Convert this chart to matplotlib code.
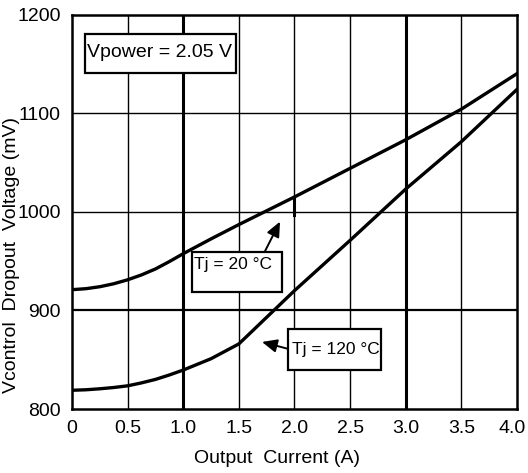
import matplotlib
matplotlib.use("Agg")
import matplotlib.pyplot as plt
from matplotlib.patches import Rectangle
from matplotlib.transforms import ScaledTranslation

plt.rcParams['font.family'] = ['Liberation Sans', 'DejaVu Sans']

current = [0.0, 0.125, 0.25, 0.375, 0.5, 0.625, 0.75, 0.875, 1.0, 1.25, 1.5, 1.75, 2.0, 2.5, 3.0, 3.5, 4.0]
v_tj20 = [921, 922, 924, 927, 931, 936, 942, 949.5, 957.5, 972.5, 987, 1001, 1015, 1044, 1073, 1104, 1140]
v_tj120 = [819, 819.5, 820.5, 821.8, 823.5, 826.5, 830, 834.5, 839.5, 851, 866, 893, 920, 971, 1023, 1071, 1124]

xticks = [0, 0.5, 1.0, 1.5, 2.0, 2.5, 3.0, 3.5, 4.0]
xticklabels = ["0", "0.5", "1.0", "1.5", "2.0", "2.5", "3.0", "3.5", "4.0"]
yticks = [800, 900, 1000, 1100, 1200]

fig = plt.figure(figsize=(5.28, 4.73), dpi=100)
ax = fig.add_axes([0.1364, 0.1353, 0.8426, 0.8340])
ax.set_xlim(0, 4.0)
ax.set_ylim(800, 1200)

# grid
for x in xticks[1:-1]:
    lw = 2.2 if x in (1.0, 3.0) else 1.0
    ax.axvline(x, color='black', lw=lw, zorder=1)
for y in yticks[1:-1]:
    lw = 1.6 if y == 900 else 1.0
    ax.axhline(y, color='black', lw=lw, zorder=1)

ax.plot(current, v_tj20, color='black', lw=2.4, zorder=3, solid_joinstyle='round')
ax.plot(current, v_tj120, color='black', lw=2.4, zorder=3, solid_joinstyle='round')
ax.plot([2.0, 2.0], [997, 1015], color='black', lw=2.2, zorder=3)

for s in ax.spines.values():
    s.set_linewidth(1.8)

ax.set_xticks(xticks)
ax.set_xticklabels(xticklabels)
ax.set_yticks(yticks)
ax.tick_params(length=0, pad=8, labelsize=14)
last = ax.get_xticklabels()[-1]
last.set_transform(last.get_transform() + ScaledTranslation(-5 / 100, 0, fig.dpi_scale_trans))

ax.set_xlabel("Output  Current (A)", fontsize=14)
ax.xaxis.set_label_coords(0.46, -0.105)
ax.set_ylabel("Vcontrol  Dropout  Voltage (mV)", fontsize=14)
ax.yaxis.set_label_coords(-0.117, 0.39)

def box(x0, x1, y0, y1):
    ax.add_patch(Rectangle((x0, y0), x1 - x0, y1 - y0, fc='white', ec='black',
                           lw=1.6, zorder=5))

box(0.117, 1.474, 1140.7, 1180.2)
ax.text(0.135, 1161, "Vpower = 2.05 V", fontsize=14, va='center', ha='left', zorder=6)

box(1.078, 1.887, 918.6, 959.2)
ax.text(1.097, 947, "Tj = 20 °C", fontsize=12.5, va='center', ha='left', zorder=6)
ax.annotate("", xy=(1.87, 990), xytext=(1.735, 960),
            arrowprops=dict(arrowstyle='-|>,head_length=0.9,head_width=0.4', color='black', lw=1.4,
                            shrinkA=0, shrinkB=0), zorder=6)

box(1.942, 2.778, 839.5, 881.1)
ax.text(1.975, 860.5, "Tj = 120 °C", fontsize=12.5, va='center', ha='left', zorder=6)
ax.annotate("", xy=(1.708, 868), xytext=(1.942, 861),
            arrowprops=dict(arrowstyle='-|>,head_length=0.9,head_width=0.4', color='black', lw=1.4,
                            shrinkA=0, shrinkB=0), zorder=6)

fig.savefig("out.png", dpi=100)
